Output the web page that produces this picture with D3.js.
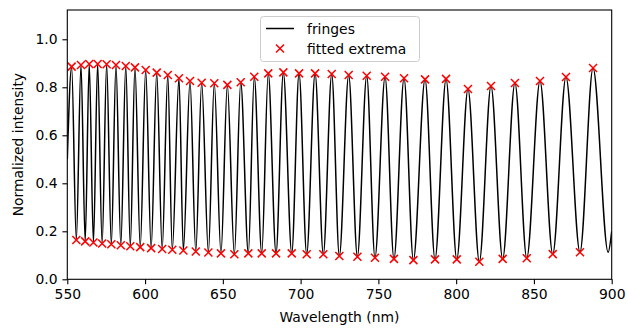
<!DOCTYPE html>
<html><head><meta charset="utf-8">
<script src="https://cdn.jsdelivr.net/npm/d3@7"></script>
<style>body{margin:0;background:#fff} text{font-family:"DejaVu Sans",sans-serif;fill:#000}</style>
</head><body><svg id="c" width="627" height="332"></svg>
<script>
// fitted maxima (wavelength nm, normalized intensity)
const maxWl = [552.8,558.8,564.1,569.5,575.3,581.3,587.6,593.5,600.4,607.5,614.6,621.8,628.9,636.4,644.5,652.9,661.5,670.2,679.2,688.9,699.0,709.3,720.0,730.9,742.5,754.3,766.5,780.0,793.5,807.6,822.4,837.8,853.9,870.6,888.0];
const maxI  = [0.886,0.893,0.897,0.897,0.896,0.893,0.889,0.883,0.872,0.861,0.851,0.838,0.826,0.819,0.817,0.810,0.821,0.844,0.858,0.862,0.858,0.858,0.855,0.851,0.848,0.844,0.838,0.833,0.835,0.793,0.805,0.818,0.826,0.843,0.880];
// fitted minima
const minWl = [555.8,561.5,566.8,572.4,578.3,584.4,590.5,596.9,603.9,611.0,617.5,624.6,632.6,640.7,648.8,657.4,666.4,675.0,684.2,694.3,703.9,714.6,724.9,736.5,747.8,760.0,772.5,786.4,800.4,814.9,829.9,845.4,862.1,879.6];
const minI  = [0.164,0.158,0.153,0.149,0.146,0.142,0.138,0.134,0.130,0.126,0.123,0.120,0.116,0.112,0.108,0.104,0.108,0.108,0.108,0.108,0.104,0.104,0.097,0.094,0.090,0.085,0.080,0.083,0.083,0.073,0.085,0.088,0.105,0.113];
// measured fringe points not covered by the fit (edges of the spectrum)
const edgeWl = [550.0,897.7,900.0];
const edgeI  = [0.50,0.113,0.20];
const xTicks = [550,600,650,700,750,800,850,900];
const yTicks = [0.0,0.2,0.4,0.6,0.8,1.0];
const xLabel = "Wavelength (nm)";
const yLabel = "Normalized intensity";
const legendLabels = ["fringes","fitted extrema"];

const svg = d3.select("#c");
const L = 67.3, R = 611.7, T = 10, B = 279.3;
const x = d3.scaleLinear().domain([550,900]).range([L,R]);
const y = d3.scaleLinear().domain([0,1.122]).range([B,T]);
const fs = 13.9;

svg.append("clipPath").attr("id","clip").append("rect")
  .attr("x",L).attr("y",T).attr("width",R-L).attr("height",B-T);

// fringe line through all measured extrema
const pts = [];
edgeWl.forEach((w,i)=>pts.push([w,edgeI[i]]));
maxWl.forEach((w,i)=>pts.push([w,maxI[i]]));
minWl.forEach((w,i)=>pts.push([w,minI[i]]));
pts.sort((a,b)=>a[0]-b[0]);
const line = d3.line().x(d=>x(d[0])).y(d=>y(d[1])).curve(d3.curveMonotoneX);
svg.append("path").attr("clip-path","url(#clip)").attr("d",line(pts))
  .attr("fill","none").attr("stroke","#000").attr("stroke-width",1.5).attr("stroke-linejoin","round");

// extrema markers
const xm = "M-4,-4L4,4M-4,4L4,-4";
const ext = maxWl.map((w,i)=>[w,maxI[i]]).concat(minWl.map((w,i)=>[w,minI[i]]));
svg.append("g").selectAll("path").data(ext).join("path")
  .attr("d",xm).attr("transform",d=>`translate(${x(d[0])},${y(d[1])})`)
  .attr("stroke","#ff0000").attr("stroke-width",1.5).attr("fill","none");

// axes
const gx = svg.append("g").attr("transform",`translate(0,${B})`)
  .call(d3.axisBottom(x).tickValues(xTicks).tickFormat(d3.format("d")).tickSize(4.9).tickPadding(4.9).tickSizeOuter(0));
const gy = svg.append("g").attr("transform",`translate(${L},0)`)
  .call(d3.axisLeft(y).tickValues(yTicks).tickFormat(d3.format(".1f")).tickSize(4.9).tickPadding(4.9).tickSizeOuter(0));
[gx,gy].forEach(g=>{
  g.select(".domain").remove();
  g.selectAll("line").attr("stroke","#000").attr("stroke-width",1.1);
  g.selectAll("text").attr("font-family","DejaVu Sans").attr("font-size",fs).attr("fill","#000");
});
svg.append("rect").attr("x",L).attr("y",T).attr("width",R-L).attr("height",B-T)
  .attr("fill","none").attr("stroke","#000").attr("stroke-width",1.1);

svg.append("text").attr("x",(L+R)/2).attr("y",322).attr("text-anchor","middle")
  .attr("font-size",fs).text(xLabel);
svg.append("text").attr("transform",`translate(23,${(T+B)/2}) rotate(-90)`).attr("text-anchor","middle")
  .attr("font-size",fs).text(yLabel);

// legend
const lg = svg.append("g");
lg.append("rect").attr("x",260.5).attr("y",16.5).attr("width",159).attr("height",45).attr("rx",3)
  .attr("fill","#fff").attr("fill-opacity",0.8).attr("stroke","#cccccc").attr("stroke-width",1);
lg.append("line").attr("x1",266).attr("x2",294).attr("y1",28.5).attr("y2",28.5).attr("stroke","#000").attr("stroke-width",1.5);
lg.append("path").attr("d",xm).attr("transform","translate(280,48.5)").attr("stroke","#ff0000").attr("stroke-width",1.5);
lg.append("text").attr("x",307).attr("y",33.5).attr("font-size",fs).text(legendLabels[0]);
lg.append("text").attr("x",307).attr("y",53.5).attr("font-size",fs).text(legendLabels[1]);
</script></body></html>
